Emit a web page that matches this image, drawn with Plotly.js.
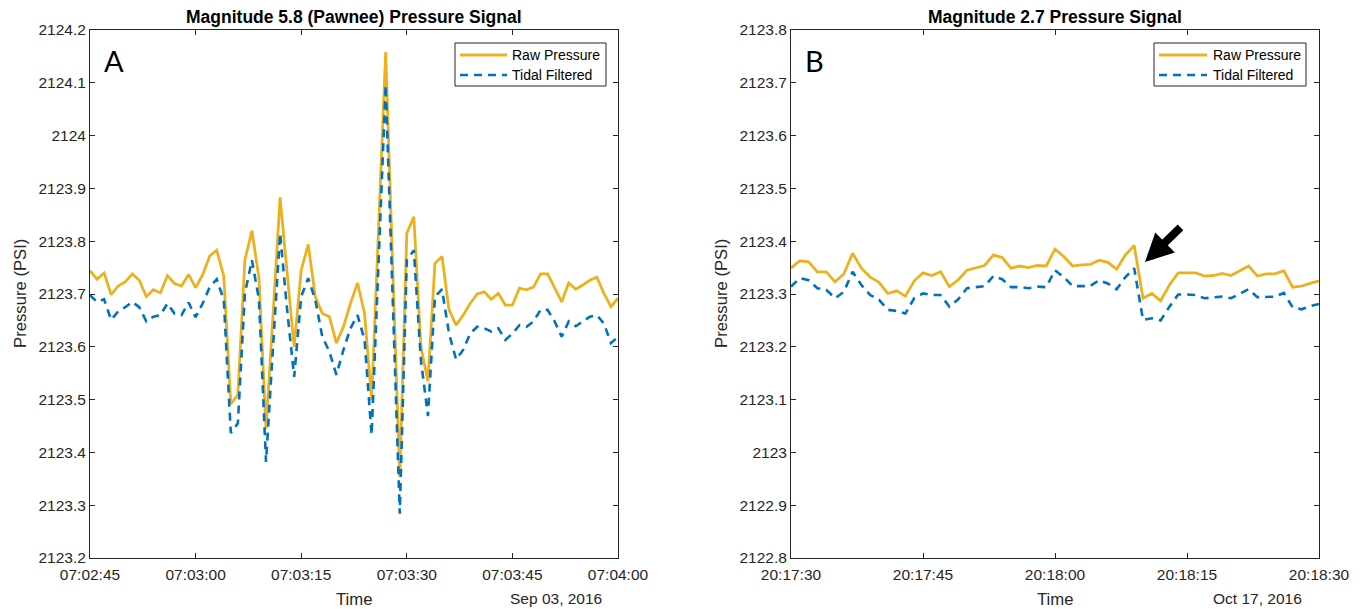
<!DOCTYPE html>
<html><head><meta charset="utf-8">
<script src="https://cdn.plot.ly/plotly-3.0.1.min.js"></script>
<style>html,body{margin:0;padding:0;background:#fff}#chart{width:1366px;height:609px}</style>
</head><body><div id="chart"></div>
<script>
// ---------- Panel A : Magnitude 5.8 (Pawnee), 1 sample / s from 07:02:45 ----------
const startA = '2016-09-03T07:02:45';
const rawA = [2123.744,2123.728,2123.740,2123.699,2123.715,2123.723,2123.738,2123.726,2123.695,2123.708,
  2123.702,2123.735,2123.720,2123.715,2123.737,2123.712,2123.736,2123.772,2123.783,2123.734,
  2123.492,2123.509,2123.764,2123.820,2123.730,2123.445,2123.660,2123.883,2123.740,2123.600,
  2123.745,2123.794,2123.695,2123.663,2123.657,2123.607,2123.638,2123.682,2123.721,2123.663,
  2123.499,2123.830,2124.158,2123.750,2123.354,2123.815,2123.846,2123.600,2123.535,2123.758,
  2123.771,2123.670,2123.641,2123.660,2123.682,2123.700,2123.704,2123.690,2123.701,2123.679,
  2123.679,2123.711,2123.708,2123.713,2123.738,2123.738,2123.713,2123.685,2123.721,2123.709,
  2123.717,2123.726,2123.732,2123.701,2123.676,2123.692];
const filtA = [2123.698,2123.685,2123.690,2123.651,2123.667,2123.675,2123.685,2123.675,2123.648,2123.657,
  2123.660,2123.682,2123.663,2123.660,2123.684,2123.656,2123.682,2123.713,2123.728,2123.689,
  2123.437,2123.455,2123.701,2123.764,2123.690,2123.382,2123.600,2123.815,2123.670,2123.543,
  2123.695,2123.730,2123.689,2123.619,2123.591,2123.547,2123.594,2123.635,2123.660,2123.613,
  2123.433,2123.770,2124.096,2123.690,2123.284,2123.764,2123.783,2123.575,2123.469,2123.695,
  2123.709,2123.625,2123.576,2123.594,2123.625,2123.638,2123.635,2123.629,2123.635,2123.613,
  2123.625,2123.641,2123.638,2123.648,2123.670,2123.670,2123.648,2123.619,2123.648,2123.639,
  2123.648,2123.657,2123.660,2123.644,2123.607,2123.619];
const xTickTextA = ['07:02:45','07:03:00','07:03:15','07:03:30','07:03:45','07:04:00'];
const yTickValsA = [2123.2,2123.3,2123.4,2123.5,2123.6,2123.7,2123.8,2123.9,2124.0,2124.1,2124.2];
const yTickTextA = ['2123.2','2123.3','2123.4','2123.5','2123.6','2123.7','2123.8','2123.9','2124','2124.1','2124.2'];

// ---------- Panel B : Magnitude 2.7, 1 sample / s from 20:17:30 ----------
const startB = '2016-10-17T20:17:30';
const rawB = [2123.349,2123.363,2123.361,2123.342,2123.342,2123.323,2123.338,2123.377,2123.349,2123.332,
  2123.322,2123.301,2123.306,2123.296,2123.325,2123.340,2123.335,2123.342,2123.314,2123.327,
  2123.345,2123.350,2123.354,2123.374,2123.369,2123.349,2123.353,2123.350,2123.354,2123.353,
  2123.385,2123.371,2123.353,2123.355,2123.356,2123.364,2123.360,2123.347,2123.374,2123.392,
  2123.292,2123.301,2123.287,2123.317,2123.340,2123.340,2123.340,2123.334,2123.335,2123.339,
  2123.335,2123.344,2123.353,2123.334,2123.338,2123.338,2123.344,2123.313,2123.315,2123.320,
  2123.325];
const filtB = [2123.314,2123.330,2123.326,2123.311,2123.308,2123.292,2123.304,2123.342,2123.317,2123.298,
  2123.289,2123.270,2123.268,2123.263,2123.292,2123.301,2123.298,2123.298,2123.276,2123.290,
  2123.311,2123.313,2123.315,2123.334,2123.328,2123.313,2123.313,2123.311,2123.314,2123.313,
  2123.345,2123.332,2123.315,2123.315,2123.315,2123.326,2123.320,2123.309,2123.332,2123.349,
  2123.251,2123.254,2123.250,2123.276,2123.299,2123.299,2123.298,2123.292,2123.294,2123.295,
  2123.292,2123.301,2123.309,2123.294,2123.295,2123.295,2123.302,2123.275,2123.271,2123.277,
  2123.281];
const xTickTextB = ['20:17:30','20:17:45','20:18:00','20:18:15','20:18:30'];
const yTickValsB = [2122.8,2122.9,2123.0,2123.1,2123.2,2123.3,2123.4,2123.5,2123.6,2123.7,2123.8];
const yTickTextB = ['2122.8','2122.9','2123','2123.1','2123.2','2123.3','2123.4','2123.5','2123.6','2123.7','2123.8'];

const seriesNames = ['Raw Pressure','Tidal Filtered'];
const colors = ['#EDB120','#0072BD'];

function fmt(ms){ return new Date(ms).toISOString().replace('T',' ').replace('Z',''); }
function timeAxis(start, n, step){ const b = new Date(start+'Z').getTime(); return Array.from({length:n},(_,i)=>fmt(b+i*step*1000)); }

const tA = timeAxis(startA, rawA.length, 1);
const tB = timeAxis(startB, rawB.length, 1);
const tickA = timeAxis(startA, xTickTextA.length, 15);
const tickB = timeAxis(startB, xTickTextB.length, 15);

const FONT = 'Liberation Sans, Arial, sans-serif';
const INK = '#262626';
const W = 1366, H = 609;
const px = x => x / W, py = y => 1 - y / H;
const RAW_W = 2.8, FILT_W = 2.6, DASH = '8px,6px';

const traces = [
  {x:tA, y:rawA, type:'scatter', mode:'lines', name:seriesNames[0], xaxis:'x', yaxis:'y',
   line:{color:colors[0], width:RAW_W}},
  {x:tA, y:filtA, type:'scatter', mode:'lines', name:seriesNames[1], xaxis:'x', yaxis:'y',
   line:{color:colors[1], width:FILT_W, dash:DASH}},
  {x:tB, y:rawB, type:'scatter', mode:'lines', name:seriesNames[0], xaxis:'x2', yaxis:'y2',
   line:{color:colors[0], width:RAW_W}},
  {x:tB, y:filtB, type:'scatter', mode:'lines', name:seriesNames[1], xaxis:'x2', yaxis:'y2',
   line:{color:colors[1], width:FILT_W, dash:DASH}}
];

function xax(domain, range, vals, text, anchor){
  return {domain, range, type:'date', tickmode:'array', tickvals:vals, ticktext:text, anchor,
    ticks:'inside', ticklen:5, tickwidth:1, tickcolor:INK, showline:true, linecolor:INK, linewidth:1,
    mirror:'allticks', showgrid:false, zeroline:false, automargin:false, fixedrange:true,
    ticklabelstandoff:2, tickfont:{family:FONT, size:15.5, color:INK}};
}
function yax(domain, range, vals, text, anchor){
  return {domain, range, tickmode:'array', tickvals:vals, ticktext:text, anchor,
    ticks:'inside', ticklen:5, tickwidth:1, tickcolor:INK, showline:true, linecolor:INK, linewidth:1,
    mirror:'allticks', showgrid:false, zeroline:false, automargin:false, fixedrange:true,
    tickfont:{family:FONT, size:15.5, color:INK}};
}

// Legend boxes (drawn like MATLAB's: outlined box, 47px line samples, text after)
const legendBoxes = [{x0:455, x1:606, sx0:460, sx1:507, tx:510}, {x0:1154, x1:1306, sx0:1159, sx1:1207, tx:1211}];
const legRows = [55, 75];
const shapes = [], legAnn = [];
legendBoxes.forEach(b => {
  shapes.push({type:'rect', xref:'paper', yref:'paper', x0:px(b.x0), x1:px(b.x1), y0:py(86), y1:py(43),
    line:{color:INK, width:1}, fillcolor:'#ffffff', layer:'above'});
  seriesNames.forEach((nm, i) => {
    shapes.push({type:'line', xref:'paper', yref:'paper', x0:px(b.sx0), x1:px(b.sx1), y0:py(legRows[i]), y1:py(legRows[i]),
      line:{color:colors[i], width:i ? FILT_W : RAW_W, dash:i ? DASH : 'solid'}, layer:'above'});
    legAnn.push({xref:'paper', yref:'paper', x:px(b.tx), y:py(legRows[i]), text:nm, showarrow:false,
      xanchor:'left', yanchor:'middle', font:{family:FONT, size:14, color:'#000'}});
  });
});

const layout = {
  width:W, height:H, margin:{l:0,r:0,t:0,b:0}, paper_bgcolor:'#ffffff', plot_bgcolor:'#ffffff',
  showlegend:false,
  xaxis: xax([px(90),px(618)], [tA[0], tickA[tickA.length-1]], tickA, xTickTextA, 'y'),
  yaxis: yax([py(558),py(30)], [2123.2,2124.2], yTickValsA, yTickTextA, 'x'),
  xaxis2: xax([px(791),px(1319)], [tB[0], tickB[tickB.length-1]], tickB, xTickTextB, 'y2'),
  yaxis2: yax([py(558),py(30)], [2122.8,2123.8], yTickValsB, yTickTextB, 'x2'),
  shapes: shapes,
  annotations: legAnn.concat([
    {xref:'paper', yref:'paper', x:px(354), y:py(17), text:'<b>Magnitude 5.8 (Pawnee) Pressure Signal</b>', showarrow:false, xanchor:'center', yanchor:'middle', font:{family:FONT, size:17.5, color:'#000'}},
    {xref:'paper', yref:'paper', x:px(1055), y:py(17), text:'<b>Magnitude 2.7 Pressure Signal</b>', showarrow:false, xanchor:'center', yanchor:'middle', font:{family:FONT, size:17.5, color:'#000'}},
    {xref:'paper', yref:'paper', x:px(354), y:py(599), text:'Time', showarrow:false, xanchor:'center', yanchor:'middle', font:{family:FONT, size:16.7, color:INK}},
    {xref:'paper', yref:'paper', x:px(1055), y:py(599), text:'Time', showarrow:false, xanchor:'center', yanchor:'middle', font:{family:FONT, size:16.7, color:INK}},
    {xref:'paper', yref:'paper', x:px(604), y:py(598), text:'Sep 03, 2016', showarrow:false, xanchor:'right', yanchor:'middle', font:{family:FONT, size:15.5, color:INK}},
    {xref:'paper', yref:'paper', x:px(1304), y:py(598), text:'Oct 17, 2016', showarrow:false, xanchor:'right', yanchor:'middle', font:{family:FONT, size:15.5, color:INK}},
    {xref:'paper', yref:'paper', x:px(20), y:py(294), text:'Pressure (PSI)', textangle:-90, showarrow:false, xanchor:'center', yanchor:'middle', font:{family:FONT, size:16.7, color:INK}},
    {xref:'paper', yref:'paper', x:px(721), y:py(294), text:'Pressure (PSI)', textangle:-90, showarrow:false, xanchor:'center', yanchor:'middle', font:{family:FONT, size:16.7, color:INK}},
    {xref:'paper', yref:'paper', x:px(114), y:py(61), text:'A', showarrow:false, xanchor:'center', yanchor:'middle', font:{family:'Lato, Open Sans, sans-serif', size:29, color:'#000'}},
    {xref:'paper', yref:'paper', x:px(814), y:py(61), text:'B', showarrow:false, xanchor:'center', yanchor:'middle', font:{family:'Lato, Open Sans, sans-serif', size:29, color:'#000'}},
    {xref:'paper', yref:'paper', x:px(1145), y:py(262), ax:37, ay:-36, text:'', showarrow:true, arrowhead:2, arrowsize:0.7, arrowwidth:8, arrowcolor:'#000'}
  ])
};

Plotly.newPlot('chart', traces, layout, {displayModeBar:false, staticPlot:true});
</script>
</body></html>
